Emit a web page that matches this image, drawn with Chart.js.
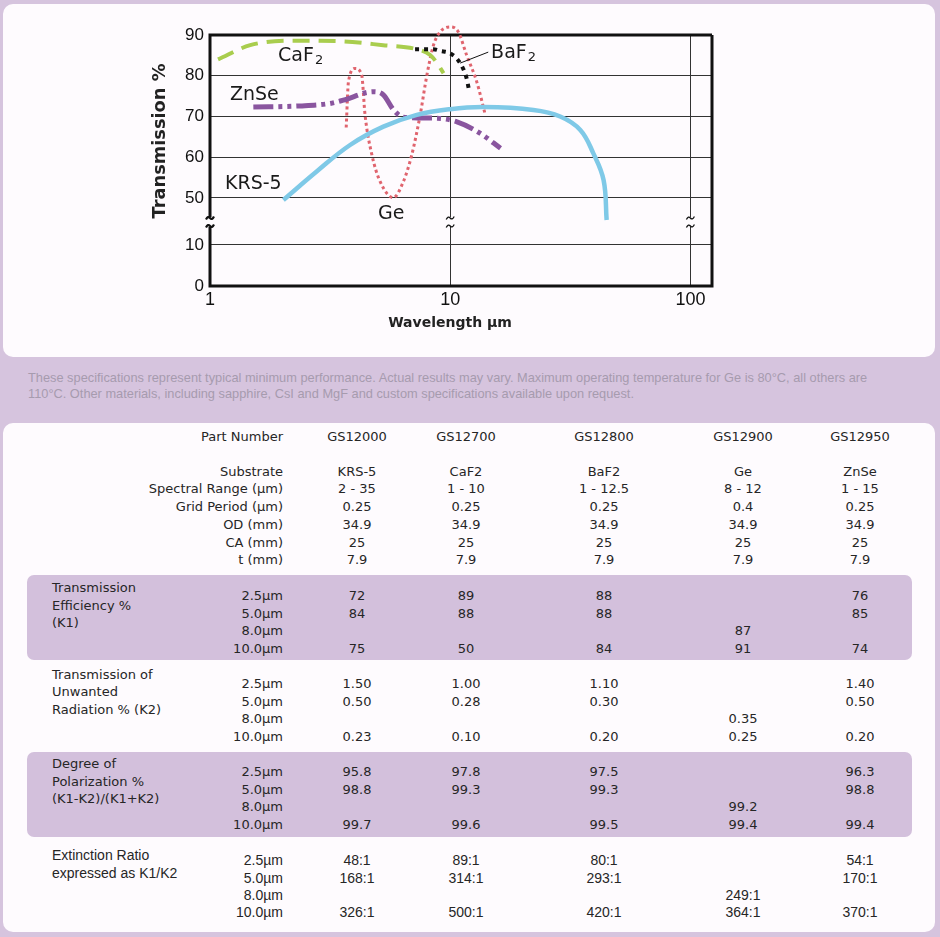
<!DOCTYPE html>
<html>
<head>
<meta charset="utf-8">
<script src="https://cdn.jsdelivr.net/npm/chart.js@4.4.0/dist/chart.umd.min.js"></script>
<style>
  html, body { margin: 0; padding: 0; }
  body {
    width: 940px; height: 937px; position: relative; overflow: hidden;
    background: #d6c4de; color: #262626;
    font-family: "DejaVu Sans", sans-serif;
  }
  .box { position: absolute; background: #fefbfe; border-radius: 10px; }
  #chartBox { left: 3px; top: 4px; width: 932px; height: 353px; }
  #tableBox { left: 3px; top: 423px; width: 932px; height: 509px; }
  #chartWrap { position: absolute; left: 130px; top: 10px; width: 620px; height: 335px; }
  .note {
    position: absolute; left: 28px; top: 370px; white-space: nowrap;
    font-family: "Liberation Sans", sans-serif; font-size: 12.8px; line-height: 15.5px; color: #a69bae;
  }
  .band { position: absolute; left: 27px; width: 885px; background: #d3c0dc; border-radius: 7px; }
  .cell { position: absolute; font-size: 13px; line-height: 16px; height: 16px; white-space: nowrap; }
  .narrow { font-family: "Liberation Sans", sans-serif; font-size: 14px; }
</style>
</head>
<body>
<div class="box" id="chartBox"></div>
<div id="chartWrap"><canvas id="transChart"></canvas></div>
<div class="note">These specifications represent typical minimum performance. Actual results may vary. Maximum operating temperature for Ge is 80°C, all others are<br>110°C. Other materials, including sapphire, CsI and MgF and custom specifications available upon request.</div>
<div class="box" id="tableBox"></div>
<div class="band" style="top:575px; height:85px;"></div>
<div class="band" style="top:752px; height:85px;"></div>
<div id="table"></div>

<script>
// ---- chart data ----
const wlTicks = [1, 10, 100];
const upperTicks = [50, 60, 70, 80, 90];
const lowerTicks = [0, 10];

const caf2Wl = [1.08, 1.47, 2.15, 3.37, 5.26, 7.27, 8.25, 8.82, 9.38];
const caf2T = [84.0, 87.5, 88.6, 88.5, 87.5, 86.5, 85.1, 83.1, 80.6];

const baf2Wl = [7.14, 8.5, 9.1, 10.0, 11.0, 11.7, 11.94];
const baf2T = [86.5, 86.5, 86.1, 85.5, 83.1, 79.4, 76.9];

const znseWl = [1.515, 2.37, 3.16, 3.59, 4.79, 5.27, 5.81, 6.39, 8.52, 10.67, 13.3, 16.2];
const znseT = [72.3, 72.6, 73.2, 74.0, 76.1, 75.3, 71.6, 69.8, 69.6, 68.7, 65.9, 62.2];

const krsWl = [2.02, 2.78, 3.83, 5.27, 7.26, 10, 13.8, 22.2, 28.7, 34.8, 39.4, 43.5, 44.8];
const krsT = [49.5, 56.5, 63.0, 67.5, 70.4, 71.8, 72.3, 71.6, 70.0, 66.7, 61.0, 54.4, 44.6];

const geWl = [3.69, 3.77, 4.02, 4.28, 4.42, 4.72, 5.11, 5.80, 6.38, 6.92, 7.50, 8.0, 8.52, 9.09, 10.0, 10.8, 11.7, 12.9, 14.0];
const geT = [67.3, 78.5, 81.8, 80.2, 70.4, 60.6, 54.0, 50.1, 54.0, 60.6, 70.4, 80.2, 87.5, 90.8, 92.0, 90.8, 85.1, 78.5, 70.4];

// leader line from the BaF2 curve to its label
const leaderWl = [11.0, 14.4];
const leaderT = [83.1, 85.8];

const curveLabels = [
  { text: "CaF", sub: "2", wl: 1.92, t: 84.85 },
  { text: "ZnSe", wl: 1.21, t: 75.3 },
  { text: "KRS-5", wl: 1.155, t: 53.4 },
  { text: "Ge", wl: 5.01, t: 46.1 },
  { text: "BaF", sub: "2", wl: 14.8, t: 85.6 },
];

// ---- table data ----
const partNumbers = ["GS12000", "GS12700", "GS12800", "GS12900", "GS12950"];
const specLabels = ["Substrate", "Spectral Range (µm)", "Grid Period (µm)", "OD (mm)", "CA (mm)", "t (mm)"];
const substrates = ["KRS-5", "CaF2", "BaF2", "Ge", "ZnSe"];
const spectralRanges = ["2 - 35", "1 - 10", "1 - 12.5", "8 - 12", "1 - 15"];
const gridPeriods = ["0.25", "0.25", "0.25", "0.4", "0.25"];
const outerDiameters = ["34.9", "34.9", "34.9", "34.9", "34.9"];
const clearApertures = ["25", "25", "25", "25", "25"];
const thicknesses = ["7.9", "7.9", "7.9", "7.9", "7.9"];

const sampleWavelengths = ["2.5µm", "5.0µm", "8.0µm", "10.0µm"];
const efficiencyK1 = [["72", "84", "", "75"], ["89", "88", "", "50"], ["88", "88", "", "84"], ["", "", "87", "91"], ["76", "85", "", "74"]];
const unwantedK2 = [["1.50", "0.50", "", "0.23"], ["1.00", "0.28", "", "0.10"], ["1.10", "0.30", "", "0.20"], ["", "", "0.35", "0.25"], ["1.40", "0.50", "", "0.20"]];
const polarization = [["95.8", "98.8", "", "99.7"], ["97.8", "99.3", "", "99.6"], ["97.5", "99.3", "", "99.5"], ["", "", "99.2", "99.4"], ["96.3", "98.8", "", "99.4"]];
const extinction = [["48:1", "168:1", "", "326:1"], ["89:1", "314:1", "", "500:1"], ["80:1", "293:1", "", "420:1"], ["", "", "249:1", "364:1"], ["54:1", "170:1", "", "370:1"]];

function points(wl, t) {
  return wl.map((w, i) => ({ x: w, y: t[i] }));
}

const framePlugin = {
  id: "frame",
  beforeDatasetsDraw(chart) {
    const ctx = chart.ctx;
    const { left, right, top, bottom } = chart.chartArea;
    const xs = chart.scales.x;
    const yb = chart.scales.yHigh.bottom;
    const breaks = [left, xs.getPixelForValue(10), xs.getPixelForValue(100)];
    ctx.save();
    ctx.fillStyle = "#fefbfe";
    breaks.forEach((bx) => ctx.fillRect(bx - 6, yb - 5, 12, 10));
    ctx.strokeStyle = "#111";
    ctx.lineWidth = 3;
    ctx.beginPath();
    ctx.moveTo(left, top); ctx.lineTo(right, top);
    ctx.moveTo(right, top); ctx.lineTo(right, bottom);
    ctx.moveTo(left - 1.5, bottom); ctx.lineTo(right + 1.5, bottom);
    ctx.moveTo(left, top - 1.5); ctx.lineTo(left, yb - 5);
    ctx.moveTo(left, yb + 5); ctx.lineTo(left, bottom);
    ctx.stroke();
    breaks.forEach((bx, i) => {
      ctx.lineWidth = i === 0 ? 2.2 : 1.3;
      [yb - 4, yb + 4].forEach((cy) => {
        ctx.beginPath();
        ctx.moveTo(bx - 4, cy + 1.5);
        ctx.quadraticCurveTo(bx - 2, cy - 2.5, bx, cy);
        ctx.quadraticCurveTo(bx + 2, cy + 2.5, bx + 4, cy - 1.5);
        ctx.stroke();
      });
    });
    ctx.restore();
  },
  afterDatasetsDraw(chart) {
    const ctx = chart.ctx;
    const xs = chart.scales.x;
    const ys = chart.scales.yHigh;
    const { left, top, bottom } = chart.chartArea;
    ctx.save();
    ctx.fillStyle = "#1a1a1a";
    ctx.textBaseline = "middle";
    ctx.textAlign = "left";
    curveLabels.forEach((lb) => {
      const px = xs.getPixelForValue(lb.wl);
      const py = ys.getPixelForValue(lb.t);
      ctx.font = '19px "DejaVu Sans"';
      ctx.fillText(lb.text, px, py);
      if (lb.sub) {
        const w = ctx.measureText(lb.text).width;
        ctx.font = '13px "DejaVu Sans"';
        ctx.fillText(lb.sub, px + w + 1, py + 5);
      }
    });
    // axis titles
    ctx.fillStyle = "#222";
    ctx.font = 'bold 17.8px "DejaVu Sans"';
    ctx.textAlign = "center";
    ctx.save();
    ctx.translate(left - 50, top + 106);
    ctx.rotate(-Math.PI / 2);
    ctx.fillText("Transmission %", 0, 0);
    ctx.restore();
    ctx.font = 'bold 14px "DejaVu Sans"';
    ctx.fillText("Wavelength µm", left + 240, bottom + 37);
    ctx.restore();
  },
};

const tickFont = { family: "Liberation Sans", size: 18 };

new Chart(document.getElementById("transChart"), {
  type: "line",
  data: {
    datasets: [
      { label: "BaF2", data: points(baf2Wl, baf2T), borderColor: "#111", borderWidth: 4, borderDash: [4, 5], order: 1 },
      { label: "leader", data: points(leaderWl, leaderT), borderColor: "#111", borderWidth: 1, tension: 0, order: 0 },
      { label: "CaF2", data: points(caf2Wl, caf2T), borderColor: "#a9cd4e", borderWidth: 4, borderDash: [17, 9], order: 2 },
      { label: "KRS-5", data: points(krsWl, krsT), borderColor: "#7fc9e7", borderWidth: 4.5, order: 3, cubicInterpolationMode: "default", tension: 0.4 },
      { label: "ZnSe", data: points(znseWl, znseT), borderColor: "#8a559f", borderWidth: 5, borderDash: [20, 5, 4, 5, 4, 5], order: 4 },
      { label: "Ge", data: points(geWl, geT), borderColor: "#e0646e", borderWidth: 3, borderDash: [3, 3], order: 5 },
    ].map((d) => Object.assign({ yAxisID: "yHigh", pointRadius: 0, cubicInterpolationMode: "monotone", clip: false, fill: false }, d)),
  },
  options: {
    responsive: true,
    maintainAspectRatio: false,
    animation: false,
    layout: { padding: { top: 25, right: 38, bottom: 0, left: 0 } },
    plugins: { legend: { display: false }, tooltip: { enabled: false } },
    scales: {
      x: {
        type: "logarithmic",
        min: 1,
        max: 123,
        afterBuildTicks: (s) => { s.ticks = wlTicks.map((v) => ({ value: v })); },
        afterFit: (s) => { s.height = 59; },
        ticks: { font: tickFont, color: "#111", padding: 3, maxRotation: 0, callback: (v) => String(v) },
        grid: { color: (c) => (c.tick && c.tick.value === 1 ? "rgba(0,0,0,0)" : "#333"), lineWidth: 1, drawTicks: false },
        border: { display: false },
      },
      yLow: {
        type: "linear",
        position: "left",
        stack: "trans",
        stackWeight: 64,
        min: 0,
        max: 15.6,
        afterBuildTicks: (s) => { s.ticks = lowerTicks.map((v) => ({ value: v })); },
        afterFit: (s) => { s.width = 80; },
        ticks: { font: { family: "Liberation Sans", size: 17 }, color: "#111", padding: 6 },
        grid: { color: "#333", lineWidth: 1, drawTicks: false },
        border: { display: false },
      },
      yHigh: {
        type: "linear",
        position: "left",
        stack: "trans",
        stackWeight: 187,
        min: 44.1,
        max: 90,
        afterBuildTicks: (s) => { s.ticks = upperTicks.map((v) => ({ value: v })); },
        afterFit: (s) => { s.width = 80; },
        ticks: { font: { family: "Liberation Sans", size: 17 }, color: "#111", padding: 6 },
        grid: { color: "#333", lineWidth: 1, drawTicks: false },
        border: { display: false },
      },
    },
  },
  plugins: [framePlugin],
});

// ---- table layout ----
const colCenters = [357, 466, 604, 743, 860];
const labelRight = 283;
const groupLeft = 52;
const table = document.getElementById("table");

function addCell(text, x, y, align, extraClass) {
  const el = document.createElement("div");
  el.className = "cell" + (extraClass ? " " + extraClass : "");
  el.textContent = text;
  el.style.top = (y - 8) + "px";
  if (align === "right") {
    el.style.left = (x - 260) + "px"; el.style.width = "260px"; el.style.textAlign = "right";
  } else if (align === "center") {
    el.style.left = (x - 60) + "px"; el.style.width = "120px"; el.style.textAlign = "center";
  } else {
    el.style.left = x + "px";
  }
  table.appendChild(el);
}

addCell("Part Number", labelRight, 437, "right");
partNumbers.forEach((p, i) => addCell(p, colCenters[i], 437, "center"));

const specRows = [substrates, spectralRanges, gridPeriods, outerDiameters, clearApertures, thicknesses];
const specY = [471.5, 489.3, 507, 525, 542.7, 560];
specRows.forEach((row, r) => {
  addCell(specLabels[r], labelRight, specY[r], "right");
  row.forEach((v, i) => addCell(v, colCenters[i], specY[r], "center"));
});

const groups = [
  { title: ["Transmission", "Efficiency %", "(K1)"], values: efficiencyK1, titleY: [588, 605.5, 623], rowY: [596, 613.5, 631, 649] },
  { title: ["Transmission of", "Unwanted", "Radiation % (K2)"], values: unwantedK2, titleY: [674.5, 692, 709.5], rowY: [684, 701.5, 718.5, 736.5] },
  { title: ["Degree of", "Polarization %", "(K1-K2)/(K1+K2)"], values: polarization, titleY: [764, 781.5, 799], rowY: [772, 789.5, 807, 825] },
  { title: ["Extinction Ratio", "expressed as K1/K2"], values: extinction, titleY: [855, 872.5], rowY: [860, 877.5, 894.5, 912], cls: "narrow" },
];
groups.forEach((g) => {
  g.title.forEach((t, k) => addCell(t, groupLeft, g.titleY[k], "left", g.cls));
  sampleWavelengths.forEach((w, r) => {
    addCell(w, labelRight, g.rowY[r], "right", g.cls);
    g.values.forEach((vals, i) => { if (vals[r]) addCell(vals[r], colCenters[i], g.rowY[r], "center", g.cls); });
  });
});
</script>
</body>
</html>
